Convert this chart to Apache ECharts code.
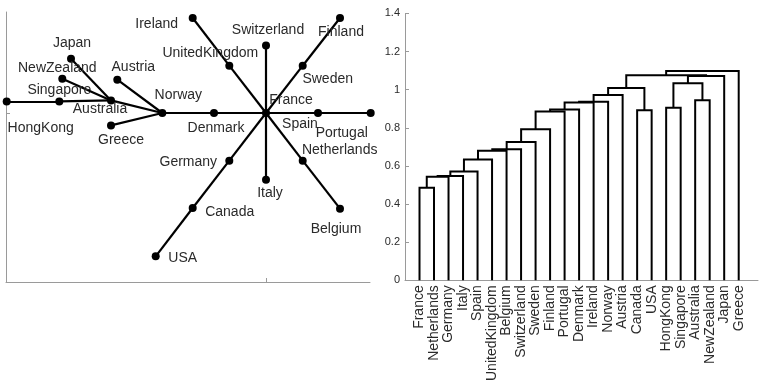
<!DOCTYPE html>
<html>
<head>
<meta charset="utf-8">
<title>Country network and dendrogram</title>
<script src="https://cdn.jsdelivr.net/npm/echarts@6/dist/echarts.min.js"></script>
<style>
  html, body { margin: 0; padding: 0; background: #fff; }
  #chart { width: 759px; height: 384px; }
</style>
</head>
<body>
<div id="chart"></div>
<script>
// ---- Network panel: node coordinates (France at the origin) ----
const nodeNames = ['France', 'Spain', 'Portugal', 'Denmark', 'Norway', 'Austria', 'Greece',
  'Australia', 'Singapore', 'HongKong', 'NewZealand', 'Japan', 'UnitedKingdom', 'Ireland',
  'Switzerland', 'Sweden', 'Finland', 'Germany', 'Canada', 'USA', 'Italy', 'Netherlands', 'Belgium'];
const nodeX = [0, 0.52, 1.047, -0.52, -1.037, -1.487, -1.55,
  -1.55, -2.067, -2.593, -2.037, -1.95, -0.367, -0.733,
  0, 0.367, 0.74, -0.367, -0.733, -1.103, 0, 0.367, 0.74];
const nodeY = [0, 0, 0, 0, 0, 0.333, -0.124,
  0.126, 0.116, 0.116, 0.343, 0.543, 0.473, 0.95,
  0.676, 0.473, 0.95, -0.477, -0.95, -1.433, -0.667, -0.477, -0.957];
const edgeFrom = ['France', 'Spain', 'France', 'Denmark', 'Norway', 'Norway', 'Norway',
  'Australia', 'Australia', 'Australia', 'Singapore', 'France', 'UnitedKingdom', 'France',
  'France', 'Sweden', 'France', 'Germany', 'Canada', 'France', 'France', 'Netherlands'];
const edgeTo = ['Spain', 'Portugal', 'Denmark', 'Norway', 'Austria', 'Greece', 'Australia',
  'Japan', 'NewZealand', 'Singapore', 'HongKong', 'UnitedKingdom', 'Ireland', 'Switzerland',
  'Sweden', 'Finland', 'Germany', 'Canada', 'USA', 'Italy', 'Netherlands', 'Belgium'];

// ---- Dendrogram panel: leaf order and merges (ids 0-22 leaves, 23+ clusters) ----
const leafNames = ['France', 'Netherlands', 'Germany', 'Italy', 'Spain', 'UnitedKingdom',
  'Belgium', 'Switzerland', 'Sweden', 'Finland', 'Portugal', 'Denmark', 'Ireland', 'Norway',
  'Austria', 'Canada', 'USA', 'HongKong', 'Singapore', 'Australia', 'NewZealand', 'Japan', 'Greece'];
const mergeLeft = [0, 23, 24, 25, 26, 27, 28, 29, 30, 31, 15, 32, 17, 34, 36, 19, 37, 39, 35, 41, 40, 43];
const mergeRight = [1, 2, 3, 4, 5, 6, 7, 8, 9, 10, 16, 11, 18, 12, 13, 20, 14, 33, 38, 21, 42, 22];
const mergeHeight = [0.486, 0.543, 0.547, 0.571, 0.634, 0.679, 0.688, 0.726, 0.792, 0.885,
  0.892, 0.896, 0.905, 0.932, 0.937, 0.945, 0.972, 1.009, 1.033, 1.072, 1.076, 1.098];
const yTicks = [0, 0.2, 0.4, 0.6, 0.8, 1, 1.2, 1.4];

// ---- label placement for the network nodes (text centre relative to node, px) ----
const labelOffset = {
  France: [25, -13], Spain: [-18, 11], Portugal: [-29, 20], Denmark: [2, 15], Norway: [16, -18],
  Austria: [16, -13], Greece: [10, 15], Australia: [-11, 9], Singapore: [0, -11],
  HongKong: [34, 27], NewZealand: [-5, -11], Japan: [1, -16], UnitedKingdom: [-19, -13],
  Ireland: [-36, 6], Switzerland: [2, -15], Sweden: [25, 13], Finland: [1, 14],
  Germany: [-41, 1], Canada: [37, 4], USA: [27, 2], Italy: [4, 13], Netherlands: [37, -11],
  Belgium: [-4, 20]
};

const FONT = 'Liberation Sans, Arial, Helvetica, sans-serif';
const TEXT = '#2a2a2a';
const AXIS = '#9a9a9a';

const graphNodes = nodeNames.map((n, i) => ({
  name: n,
  value: [nodeX[i], nodeY[i]],
  label: { offset: labelOffset[n] }
}));
const graphLinks = edgeFrom.map((s, i) => ({ source: s, target: edgeTo[i] }));

// x position and height of every dendrogram node
const nLeaf = leafNames.length;
const posX = leafNames.map((_, i) => i + 1);
const posH = leafNames.map(() => 0);
const dendroLines = [];
mergeLeft.forEach((a, k) => {
  const b = mergeRight[k];
  const h = mergeHeight[k];
  dendroLines.push({ coords: [[posX[a], posH[a]], [posX[a], h], [posX[b], h], [posX[b], posH[b]]] });
  posX[nLeaf + k] = (posX[a] + posX[b]) / 2;
  posH[nLeaf + k] = h;
});

const chart = echarts.init(document.getElementById('chart'));
chart.setOption({
  animation: false,
  backgroundColor: '#fff',
  textStyle: { fontFamily: FONT },
  grid: [
    { left: 6, top: 12, width: 364, height: 270 },
    { left: 405, top: 13.4, width: 353, height: 268.3 }
  ],
  xAxis: [
    {
      gridIndex: 0, type: 'value', min: -2.6, max: 1.04,
      axisLine: { show: true, onZero: false, lineStyle: { color: AXIS, width: 1 } },
      axisTick: { show: true, inside: true, length: 4, customValues: [0], lineStyle: { color: AXIS } },
      axisLabel: { show: false }, splitLine: { show: false }
    },
    {
      gridIndex: 1, type: 'value', min: 0, max: 24.33, interval: 1,
      axisLine: { show: true, onZero: false, lineStyle: { color: AXIS, width: 1 } },
      axisTick: { show: false }, splitLine: { show: false },
      axisLabel: {
        rotate: 90, margin: 5, fontSize: 14, color: TEXT, fontFamily: FONT,
        showMinLabel: false, showMaxLabel: false,
        formatter: v => (Number.isInteger(v) && v >= 1 && v <= nLeaf) ? leafNames[v - 1] : ''
      }
    }
  ],
  yAxis: [
    {
      gridIndex: 0, type: 'value', min: -1.69, max: 1.01,
      axisLine: { show: true, onZero: false, lineStyle: { color: AXIS, width: 1 } },
      axisTick: { show: true, inside: true, length: 4, customValues: [0], lineStyle: { color: AXIS } },
      axisLabel: { show: false }, splitLine: { show: false }
    },
    {
      gridIndex: 1, type: 'value', min: 0, max: 1.4, interval: 0.2,
      axisLine: { show: true, onZero: false, lineStyle: { color: AXIS, width: 1 } },
      axisTick: { show: true, inside: true, length: 4, lineStyle: { color: AXIS } },
      axisLabel: {
        fontSize: 11, color: TEXT, margin: 5, fontFamily: FONT,
        customValues: yTicks, formatter: v => String(Math.round(v * 10) / 10)
      },
      splitLine: { show: false }
    }
  ],
  series: [
    {
      type: 'graph',
      coordinateSystem: 'cartesian2d',
      xAxisIndex: 0, yAxisIndex: 0,
      layout: 'none',
      symbol: 'circle', symbolSize: 8,
      itemStyle: { color: '#000' },
      lineStyle: { color: '#000', width: 2.2, opacity: 1, curveness: 0 },
      label: {
        show: true, position: 'inside', fontSize: 14, color: TEXT, fontFamily: FONT
      },
      emphasis: { disabled: true },
      silent: true,
      data: graphNodes,
      links: graphLinks,
      z: 3
    },
    {
      type: 'lines',
      coordinateSystem: 'cartesian2d',
      xAxisIndex: 1, yAxisIndex: 1,
      polyline: true,
      silent: true,
      lineStyle: { color: '#000', width: 2, opacity: 1, join: 'miter' },
      data: dendroLines,
      z: 3
    }
  ]
});
</script>
</body>
</html>
